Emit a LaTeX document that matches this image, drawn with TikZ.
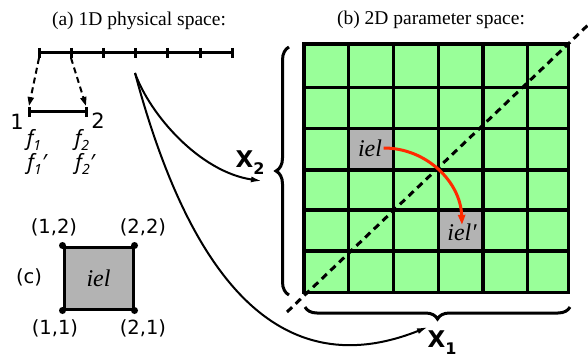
\documentclass[tikz,border=0pt]{standalone}
\usepackage{fontspec}
\setmainfont{Liberation Serif}
\newfontfamily\djs{DejaVu Sans}
\newfontfamily\noto{Noto Sans}
\usetikzlibrary{decorations.pathreplacing,arrows.meta}
\definecolor{gridgreen}{HTML}{99FF99}
\definecolor{cellgray}{HTML}{B3B3B3}
\definecolor{arrred}{HTML}{FF2A00}
\newcommand{\fsz}[1]{\fontsize{#1}{#1}\selectfont}
\newcommand{\flab}[2]{{\noto\itshape\fsz{21}f\raisebox{-0.22em}{\fsz{14}#1}#2}}
\tikzset{
  titletext/.style={font=\fsz{19.5}, inner sep=0pt},
  sanslab/.style={font=\djs\fsz{19.5}, inner sep=0pt},
  numlab/.style={font=\djs\fsz{21}, inner sep=0pt},
  xlab/.style={font=\djs\bfseries\fsz{23}, inner sep=0pt},
  ieltext/.style={font=\itshape\fsz{24}, inner sep=1.5pt},
  gridline/.style={line width=3.3pt, line cap=rect},
  thickline/.style={line width=3pt},
  dasharr/.style={line width=2pt, dash pattern=on 6pt off 4pt, -{Triangle[length=9pt,width=6pt]}},
  curvearr/.style={line width=2pt, -{Latex[length=11pt,width=6pt]}},
  bracestyle/.style={line width=3pt, decorate},
  cornerdot/.style={circle, fill=black, inner sep=0pt, minimum size=7pt},
}
\begin{document}
\begin{tikzpicture}[x=1pt,y=-1pt]
\useasboundingbox (0,0) rectangle (588,358);

% ---------- (a) 1D physical space ----------
\node[titletext] (ta) at (139,21) {(a) 1D physical space:};
\draw[thickline] (39,53) -- (232,53);
\foreach \x [count=\i] in {39,71,103,135,167,200,232}{
  \draw[thickline] (\x,48) -- (\x,58);
  \coordinate (t\i) at (\x,58);
}
\coordinate (e1) at (29,106);
\coordinate (e2) at (86,106);
\draw[thickline] (29,112) -- (86,112);
\draw[thickline] (29,107) -- (29,117);
\draw[thickline] (86,107) -- (86,117);
\draw[dasharr] (t1) -- (e1);
\draw[dasharr] (t2) -- (e2);
\node[numlab] (n1) at (17,122) {1};
\node[numlab] (n2) at (98,121) {2};
\node[inner sep=0pt] (f1) at (34,140) {\flab{1}{}};
\node[inner sep=0pt] (f2) at (82,140) {\flab{2}{}};
\node[inner sep=0pt] (f1p) at (37,164) {\flab{1}{′}};
\node[inner sep=0pt] (f2p) at (85,164) {\flab{2}{′}};

% ---------- (c) element ----------
\node[draw, fill=cellgray, line width=3pt, minimum width=69pt, minimum height=62pt, font=\itshape\fsz{24}] (sq) at (98.5,278) {iel};
\foreach \c in {north west, north east, south west, south east}
  \node[cornerdot] at (sq.\c) {};
\node[sanslab] (c12) at (54,227) {(1,2)};
\node[sanslab] (c22) at (143,227) {(2,2)};
\node[sanslab] (c11) at (55,328) {(1,1)};
\node[sanslab] (c21) at (143,328) {(2,1)};
\node[sanslab] (lc) at (29,277) {(c)};

% ---------- (b) 2D parameter space ----------
\node[titletext] (tb) at (431,20) {(b) 2D parameter space:};
\fill[gridgreen] (304,44) rectangle (568.3,292.7);
\fill[cellgray] (348.5,128.3) rectangle (393.3,170);
\fill[cellgray] (438.3,210) rectangle (483,251);
\foreach \x in {304,348.5,393.3,438.3,483,527.7,568.3}
  \draw[gridline] (\x,44) -- (\x,292.7);
\foreach \y in {44,87.3,128.3,170,210,251,292.7}
  \draw[gridline] (304,\y) -- (568.3,\y);
\coordinate (dA) at (287,312);
\coordinate (dB) at (588,25);
\draw[line width=3pt, dash pattern=on 7pt off 5pt] (dA) -- (dB);
\node[ieltext] (iel) at (370,148) {iel};
\node[ieltext] (ielp) at (462,232) {iel′};
\draw[line width=3pt, arrred, -{Triangle[length=10pt,width=7pt]}]
  (iel.east) to[out=0, in=92] ([yshift=-3pt]ielp.north);

% braces
\draw[bracestyle, decoration={brace, amplitude=13pt}] (289,295) -- (289,47);
\draw[bracestyle, decoration={brace, amplitude=12pt}] (570,307) -- (305,307);
\node[xlab] (X2) at (250,163) {X\raisebox{-0.3em}{\fsz{16}2}};
\node[xlab] (X1) at (442,343) {X\raisebox{-0.3em}{\fsz{16}1}};

% curves from physical space to parameter axes
\coordinate (src) at (135,73);
\coordinate (toX2) at (262,181);
\coordinate (toX1) at (428,327);
\draw[curvearr] (src) .. controls (150,115) and (200,172) .. (toX2);
\draw[curvearr] (src) .. controls (185,260) and (270,390) .. (toX1);
\end{tikzpicture}
\end{document}
